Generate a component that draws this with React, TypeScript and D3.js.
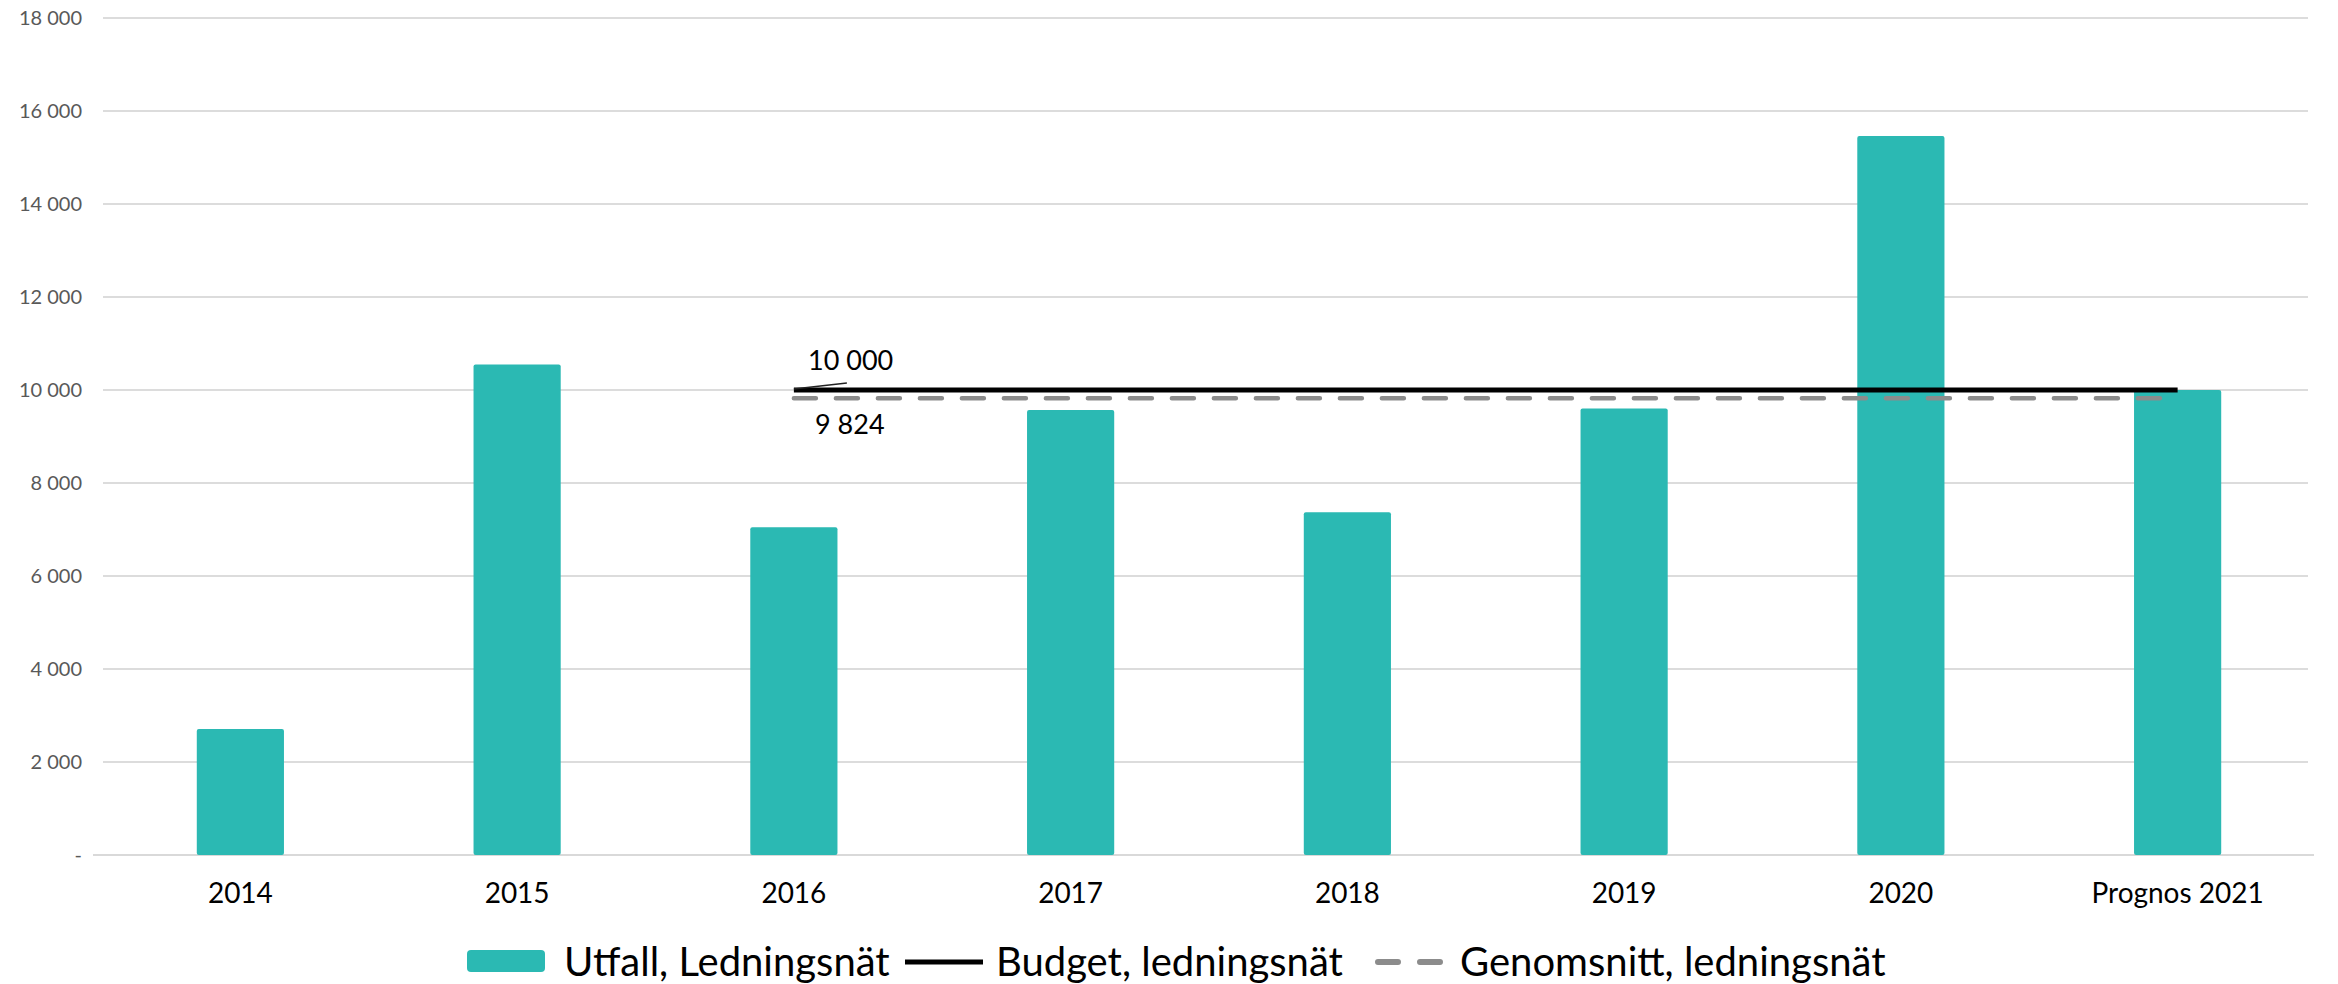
import React from "react";
import * as d3 from "d3";

const categories = ["2014", "2015", "2016", "2017", "2018", "2019", "2020", "Prognos 2021"];
const utfall = [2710, 10550, 7050, 9570, 7370, 9600, 15460, 10000];
const budgetCats = ["2016", "2017", "2018", "2019", "2020", "Prognos 2021"];
const budget = [10000, 10000, 10000, 10000, 10000, 10000];
const genomsnitt = [9824, 9824, 9824, 9824, 9824, 9824];
const yTicks = [0, 2000, 4000, 6000, 8000, 10000, 12000, 14000, 16000, 18000];
const legendLabels = ["Utfall, Ledningsnät", "Budget, ledningsnät", "Genomsnitt, ledningsnät"];
const annotBudget = "10 000";
const annotAvg = "9 824";

const W = 2338;
const H = 984;
const FONT = "Lato, Carlito, 'Open Sans', sans-serif";
const TEAL = "#2bb9b3";

export default function App() {
  const x = d3
    .scaleBand<string>()
    .domain(categories)
    .range([102, 2316])
    .paddingInner(0.685)
    .paddingOuter(0.3425);
  const y = d3.scaleLinear().domain([0, 18000]).range([855, 18]);
  const bw = x.bandwidth();
  const cx = (c: string) => (x(c) as number) + bw / 2;

  const locale = d3.formatLocale({ decimal: ",", thousands: " ", grouping: [3], currency: ["", " kr"] });
  const fmt = locale.format(",d");

  const line = d3
    .line<number>()
    .x((_, i) => cx(budgetCats[i]))
    .y((d) => y(d));

  const gridX0 = 103;
  const gridX1 = 2308;

  return (
    <svg
      width={W}
      height={H}
      style={{ position: "absolute", left: 0, top: 0, display: "block", background: "#fff" }}
      fontFamily={FONT}
    >
      {yTicks.map((t) => (
        <line
          key={"g" + t}
          x1={t === 0 ? 93 : gridX0}
          x2={t === 0 ? 2314 : gridX1}
          y1={y(t)}
          y2={y(t)}
          stroke={t === 0 ? "#d9d9d9" : "#dcdcdc"}
          strokeWidth={2}
        />
      ))}
      {yTicks.map((t) => (
        <text key={"t" + t} x={82} y={y(t) + 7} textAnchor="end" fontSize={20} fill="#595959">
          {t === 0 ? "-" : fmt(t)}
        </text>
      ))}
      {categories.map((c, i) => (
        <rect
          key={"b" + c}
          x={x(c) as number}
          y={y(utfall[i])}
          width={bw}
          height={y(0) - y(utfall[i])}
          fill={TEAL}
          rx={2}
        />
      ))}
      {categories.map((c) => (
        <text key={"x" + c} x={cx(c)} y={903} textAnchor="middle" fontSize={28} fill="#000">
          {c}
        </text>
      ))}
      <path
        d={line(genomsnitt) || ""}
        fill="none"
        stroke="#8c8c8c"
        strokeWidth={4.5}
        strokeDasharray="22 20"
        strokeLinecap="round"
      />
      <path d={line(budget) || ""} fill="none" stroke="#000" strokeWidth={5} />
      <line
        x1={cx(budgetCats[0])}
        y1={y(budget[0]) - 1}
        x2={cx(budgetCats[0]) + 53}
        y2={y(budget[0]) - 7}
        stroke="#222"
        strokeWidth={1.5}
      />
      <text x={808} y={370} fontSize={27} fill="#000">
        {annotBudget}
      </text>
      <text x={815} y={434} fontSize={27} fill="#000">
        {annotAvg}
      </text>
      <g>
        <rect x={467} y={950} width={78} height={22} rx={4} fill={TEAL} />
        <text x={564} y={976} fontSize={40} fill="#000">
          {legendLabels[0]}
        </text>
        <line x1={905} x2={983} y1={962} y2={962} stroke="#000" strokeWidth={5} />
        <text x={996} y={976} fontSize={40} fill="#000">
          {legendLabels[1]}
        </text>
        <line
          x1={1378}
          x2={1440}
          y1={962}
          y2={962}
          stroke="#8c8c8c"
          strokeWidth={6}
          strokeDasharray="20 22"
          strokeLinecap="round"
        />
        <text x={1460} y={976} fontSize={40} fill="#000">
          {legendLabels[2]}
        </text>
      </g>
    </svg>
  );
}
